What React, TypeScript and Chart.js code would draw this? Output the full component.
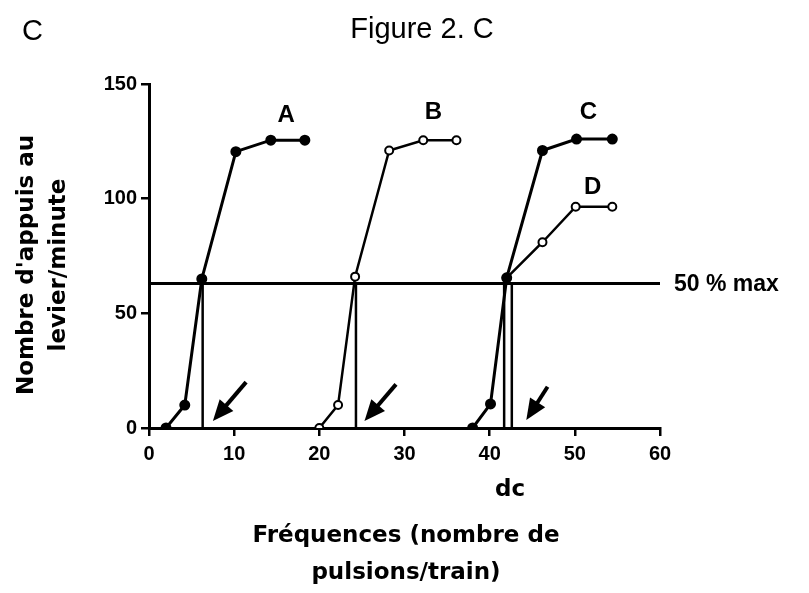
import React, { useEffect, useRef } from "react";
import { Chart, registerables } from "chart.js";
Chart.register(...registerables);

// ---- data ----
const seriesAX = [2, 4.2, 6.2, 10.2, 14.3, 18.3];
const seriesAY = [0, 10, 65, 120.5, 125.5, 125.5];
const seriesBX = [20, 22.2, 24.2, 28.2, 32.2, 36.1];
const seriesBY = [0, 10, 66, 121, 125.5, 125.5];
const seriesCX = [38, 40.1, 42, 46.2, 50.2, 54.4];
const seriesCY = [0, 10.5, 65.5, 121, 126, 126];
const seriesDX = [42, 46.2, 50.1, 54.4];
const seriesDY = [65.5, 81, 96.5, 96.5];
const halfMax = 63;
const thresholdX = [6.3, 24.3, 41.7, 42.6];
const arrowTailX = [11.4, 29.0, 46.8];
const arrowTailY = [20, 19, 18];
const arrowHeadX = [7.5, 25.3, 44.3];
const arrowHeadY = [3, 3, 3.5];
const curveNames = ["A", "B", "C", "D"];
const curveLabelX = [16.1, 33.4, 51.6, 52.1];
const curveLabelY = [136.5, 137.6, 137.8, 104.9];
const xMin = 0, xMax = 60, xStep = 10;
const yMin = 0, yMax = 150, yStep = 50;
const titleText = "Figure 2. C";
const panelText = "C";
const halfMaxText = "50 % max";
const dcText = "dc";
const xTitleLines = ["Fréquences (nombre de", "pulsions/train)"];
const yTitleLines = ["Nombre d'appuis au", "levier/minute"];

const pts = (xs: number[], ys: number[]) => xs.map((x, i) => ({ x, y: ys[i] }));

const overlay = {
  id: "overlay",
  afterDraw(chart: any) {
    const ctx = chart.ctx;
    const xs = chart.scales.x;
    const ys = chart.scales.y;
    ctx.save();
    ctx.fillStyle = "#000";
    ctx.strokeStyle = "#000";
    // arrows
    for (let i = 0; i < arrowTailX.length; i++) {
      const x0 = xs.getPixelForValue(arrowTailX[i]);
      const y0 = ys.getPixelForValue(arrowTailY[i]);
      const x1 = xs.getPixelForValue(arrowHeadX[i]);
      const y1 = ys.getPixelForValue(arrowHeadY[i]);
      const ang = Math.atan2(y1 - y0, x1 - x0);
      const hl = 21, hw = 9;
      const bx = x1 - hl * Math.cos(ang);
      const by = y1 - hl * Math.sin(ang);
      ctx.lineWidth = 4;
      ctx.beginPath();
      ctx.moveTo(x0, y0);
      ctx.lineTo(bx + 2 * Math.cos(ang), by + 2 * Math.sin(ang));
      ctx.stroke();
      ctx.beginPath();
      ctx.moveTo(x1, y1);
      ctx.lineTo(bx + hw * Math.sin(ang), by - hw * Math.cos(ang));
      ctx.lineTo(bx - hw * Math.sin(ang), by + hw * Math.cos(ang));
      ctx.closePath();
      ctx.fill();
    }
    // curve labels
    ctx.font = "bold 24px 'Liberation Sans'";
    ctx.textAlign = "center";
    ctx.textBaseline = "middle";
    curveNames.forEach((n, i) => {
      ctx.fillText(n, xs.getPixelForValue(curveLabelX[i]), ys.getPixelForValue(curveLabelY[i]));
    });
    // 50 % max
    ctx.textAlign = "left";
    ctx.font = "bold 23px 'Liberation Sans'";
    ctx.fillText(halfMaxText, xs.getPixelForValue(xMax) + 14, ys.getPixelForValue(halfMax) + 1);
    // dc
    ctx.textAlign = "center";
    ctx.font = "bold 23px 'DejaVu Sans'";
    ctx.fillText(dcText, 510, 490);
    // x title
    xTitleLines.forEach((t, i) => ctx.fillText(t, 406, 536 + i * 37));
    // y title
    ctx.save();
    ctx.translate(0, 265);
    ctx.rotate(-Math.PI / 2);
    yTitleLines.forEach((t, i) => ctx.fillText(t, 0, 27 + i * 32));
    ctx.restore();
    // title and panel letter
    ctx.font = "29px 'Liberation Sans'";
    ctx.fillText(titleText, 422, 30);
    ctx.textAlign = "left";
    ctx.fillText(panelText, 22, 32);
    ctx.restore();
  },
};

export default function App() {
  const ref = useRef<HTMLCanvasElement>(null);
  useEffect(() => {
    if (!ref.current) return;
    const lineDs = (xs: number[], ys: number[], filled: boolean, lw: number) => ({
      data: pts(xs, ys),
      borderColor: "#000",
      borderWidth: lw,
      backgroundColor: filled ? "#000" : "#fff",
      pointBackgroundColor: filled ? "#000" : "#fff",
      pointBorderColor: "#000",
      pointBorderWidth: 2,
      pointRadius: filled ? 4.5 : 4,
      showLine: true,
      tension: 0,
    });
    const plainLine = (xs: number[], ys: number[], lw: number) => ({
      data: pts(xs, ys),
      borderColor: "#000",
      borderWidth: lw,
      pointRadius: 0,
      showLine: true,
      tension: 0,
      order: 5,
    });
    const datasets: any[] = [
      lineDs(seriesAX, seriesAY, true, 3),
      lineDs(seriesBX, seriesBY, false, 2.5),
      lineDs(seriesCX, seriesCY, true, 3),
      lineDs(seriesDX, seriesDY, false, 2.5),
      plainLine([xMin, xMax], [halfMax, halfMax], 3),
      ...thresholdX.map((t) => plainLine([t, t], [0, halfMax], 2.5)),
    ];
    const chart = new Chart(ref.current, {
      type: "scatter",
      data: { datasets },
      options: {
        animation: false,
        responsive: false,
        layout: { padding: { top: 84, right: 149, left: 0, bottom: 0 } },
        plugins: { legend: { display: false }, tooltip: { enabled: false } },
        scales: {
          x: {
            type: "linear",
            min: xMin,
            max: xMax,
            afterFit: (s: any) => { s.height = 165; },
            ticks: { stepSize: xStep, color: "#000", padding: 6, font: { family: "'Liberation Sans'", weight: "bold", size: 20 } },
            grid: { drawOnChartArea: false, tickLength: 8, color: "#000", lineWidth: 2.5 },
            border: { display: true, color: "#000", width: 3 },
          },
          y: {
            type: "linear",
            min: yMin,
            max: yMax,
            afterFit: (s: any) => { s.width = 149; },
            ticks: { stepSize: yStep, color: "#000", padding: 4, font: { family: "'Liberation Sans'", weight: "bold", size: 20 } },
            grid: { drawOnChartArea: false, tickLength: 8, color: "#000", lineWidth: 2.5 },
            border: { display: true, color: "#000", width: 3 },
          },
        },
      },
      plugins: [overlay],
    });
    return () => chart.destroy();
  }, []);
  return (
    <div style={{ position: "fixed", left: 0, top: 0, width: 809, height: 593, background: "#fff" }}>
      <canvas ref={ref} width={809} height={593} />
    </div>
  );
}
